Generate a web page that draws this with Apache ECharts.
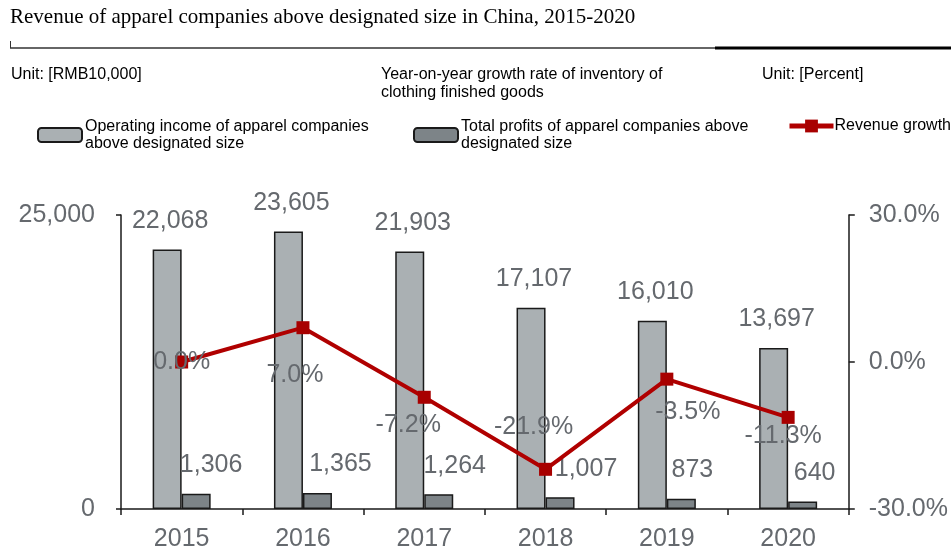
<!DOCTYPE html>
<html>
<head>
<meta charset="utf-8">
<script src="https://cdn.jsdelivr.net/npm/echarts@6/dist/echarts.min.js"></script>
<style>
  html, body { margin: 0; padding: 0; background: #fff; }
  #chart { width: 951px; height: 552px; }
</style>
</head>
<body>
<div id="chart"></div>
<script>
// Apparel industry figures, 2015-2020
const years = ['2015', '2016', '2017', '2018', '2019', '2020'];
const operatingIncome = [22068, 23605, 21903, 17107, 16010, 13697]; // RMB10,000
const totalProfits = [1306, 1365, 1264, 1007, 873, 640];            // RMB10,000
const revenueGrowth = [0.0, 7.0, -7.2, -21.9, -3.5, -11.3];         // percent

const leftTicks = [0, 25000];
const rightTicks = [-30, 0, 30];

// label placement tweaks (pixels)
const profitLabelShift = [15, 23, 16, 26, 11, 12];
const growthLabelShift = [[0, 0], [-8, 47], [-16, 28], [-12, -42], [21, 33], [-5, 19]];

const numFont = '"Liberation Sans Narrow", "Arial Narrow", "Liberation Sans", sans-serif';
const textFont = '"Liberation Sans", Arial, sans-serif';
const labelGray = '#65696e';
const numSize = 25;

const chart = echarts.init(document.getElementById('chart'));

const fmt = v => v.toLocaleString('en-US');

chart.setOption({
  animation: false,
  backgroundColor: '#fff',
  title: [
    {
      text: 'Revenue of apparel companies above designated size in China, 2015-2020',
      left: 10, top: 7, padding: 0,
      textStyle: { fontFamily: '"Liberation Serif", "Times New Roman", serif', fontSize: 21, fontWeight: 'normal', color: '#000' }
    },
    {
      text: 'Unit: [RMB10,000]', left: 11, top: 67, padding: 0,
      textStyle: { fontFamily: textFont, fontSize: 16, fontWeight: 'normal', color: '#000' }
    },
    {
      text: 'Year-on-year growth rate of inventory of\nclothing finished goods', left: 381, top: 66, padding: 0,
      textStyle: { fontFamily: textFont, fontSize: 16, fontWeight: 'normal', color: '#000', lineHeight: 18 }
    },
    {
      text: 'Unit: [Percent]', left: 762, top: 67, padding: 0,
      textStyle: { fontFamily: textFont, fontSize: 16, fontWeight: 'normal', color: '#000' }
    }
  ],
  graphic: [
    { type: 'line', shape: { x1: 10, y1: 48, x2: 715, y2: 48 }, style: { stroke: '#333', lineWidth: 1.5 } },
    { type: 'line', shape: { x1: 715, y1: 48, x2: 951, y2: 48 }, style: { stroke: '#000', lineWidth: 3 } },
    { type: 'line', shape: { x1: 10.5, y1: 41, x2: 10.5, y2: 48 }, style: { stroke: '#333', lineWidth: 1 } }
  ],
  legend: [
    {
      data: ['Operating income of apparel companies\nabove designated size'],
      left: 37, top: 116, padding: 0, itemWidth: 44, itemHeight: 14, itemGap: 3,
      icon: 'roundRect',
      textStyle: { fontFamily: textFont, fontSize: 16, color: '#000', lineHeight: 17, padding: [0, 0, 4, -2] }
    },
    {
      data: ['Total profits of apparel companies above\ndesignated size'],
      left: 413, top: 116, padding: 0, itemWidth: 44, itemHeight: 14, itemGap: 3,
      icon: 'roundRect',
      textStyle: { fontFamily: textFont, fontSize: 16, color: '#000', lineHeight: 17, padding: [0, 0, 4, -2] }
    },
    {
      data: ['Revenue growth'],
      left: 787, top: 118, padding: 0, itemWidth: 44, itemHeight: 16, itemGap: 2,
      lineStyle: { width: 5 },
      textStyle: { fontFamily: textFont, fontSize: 16, color: '#000', padding: [0, 0, 22, -4] }
    }
  ],
  grid: { left: 121, right: 98, top: 215, bottom: 43 },
  xAxis: {
    type: 'category',
    data: years,
    boundaryGap: true,
    axisLine: { lineStyle: { color: '#1a1a1a', width: 1.5 } },
    axisTick: { show: true, length: 6, lineStyle: { color: '#1a1a1a', width: 1.5 } },
    axisLabel: { fontFamily: numFont, fontSize: numSize, color: labelGray, margin: 18 }
  },
  yAxis: [
    {
      type: 'value', min: leftTicks[0], max: leftTicks[1], interval: 25000,
      splitLine: { show: false },
      axisLine: { show: true, lineStyle: { color: '#1a1a1a', width: 1.5 } },
      axisTick: { show: true, length: 5, lineStyle: { color: '#1a1a1a', width: 1.5 } },
      axisLabel: { fontFamily: numFont, fontSize: numSize, color: labelGray, margin: 26, formatter: v => fmt(v) }
    },
    {
      type: 'value', min: rightTicks[0], max: rightTicks[2], interval: 30,
      splitLine: { show: false },
      axisLine: { show: true, lineStyle: { color: '#1a1a1a', width: 1.5 } },
      axisTick: { show: true, length: 6, lineStyle: { color: '#1a1a1a', width: 1.5 } },
      axisLabel: { fontFamily: numFont, fontSize: numSize, color: labelGray, margin: 20, formatter: v => v.toFixed(1) + '%' }
    }
  ],
  series: [
    {
      name: 'Operating income of apparel companies\nabove designated size',
      type: 'bar',
      data: operatingIncome,
      barWidth: 29,
      barGap: '0%',
      itemStyle: { color: '#aab0b3', borderColor: '#1a1a1a', borderWidth: 1.5 },
      label: {
        show: true, position: 'top', distance: 5, offset: [3, -11],
        fontFamily: numFont, fontSize: numSize, color: labelGray,
        formatter: p => fmt(p.value)
      },
      z: 2
    },
    {
      name: 'Total profits of apparel companies above\ndesignated size',
      type: 'bar',
      data: totalProfits.map((v, i) => ({
        value: v,
        label: { offset: [profitLabelShift[i], -11] }
      })),
      barWidth: 29,
      barGap: '0%',
      itemStyle: { color: '#7d8488', borderColor: '#1a1a1a', borderWidth: 1.5 },
      label: {
        show: true, position: 'top', distance: 5,
        fontFamily: numFont, fontSize: numSize, color: labelGray,
        formatter: p => fmt(p.value)
      },
      z: 2
    },
    {
      name: 'Revenue growth',
      type: 'line',
      yAxisIndex: 1,
      data: revenueGrowth.map((v, i) => ({
        value: v,
        label: { offset: growthLabelShift[i] }
      })),
      symbol: 'rect',
      symbolSize: 13,
      lineStyle: { color: '#b00000', width: 4 },
      itemStyle: { color: '#a80000' },
      label: {
        show: true, position: 'inside',
        fontFamily: numFont, fontSize: numSize, color: labelGray,
        formatter: p => p.value.toFixed(1) + '%'
      },
      z: 3
    }
  ]
});
</script>
</body>
</html>
